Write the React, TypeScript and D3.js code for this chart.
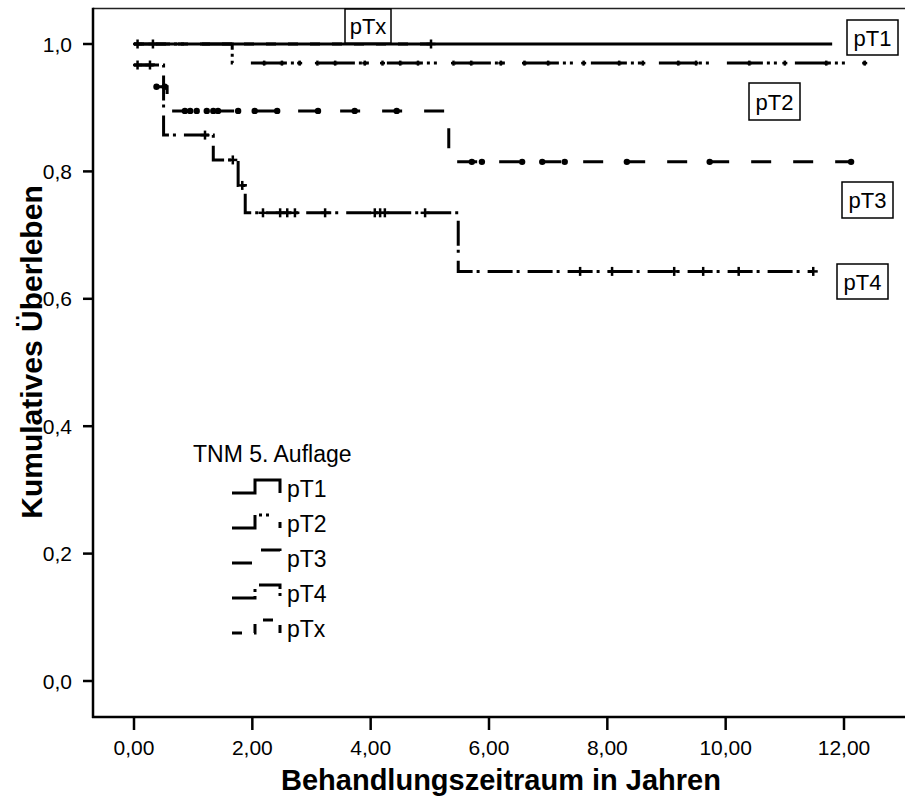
import React from "react";
import * as d3 from "d3";

const WIDTH = 905;
const HEIGHT = 798;

const xTicks = [0, 2, 4, 6, 8, 10, 12];
const yTicks = [0, 0.2, 0.4, 0.6, 0.8, 1.0];

// Kaplan-Meier steps: time (years) where the survival value starts
const pT1Times = [0, 11.8];
const pT1Surv = [1, 1];
const pT1Censored = [0.06, 0.32];

const pT2Times = [0, 1.66, 12.35];
const pT2Surv = [1, 0.97, 0.97];
const pT2Censored = [
  2.2, 2.5, 2.8, 3.1, 3.4, 3.9, 4.2, 4.5, 4.8, 5.4, 5.7, 6.2, 6.6, 7.0, 7.6,
  8.2, 8.6, 9.2, 9.5, 10.4, 11.0, 11.7, 12.35,
];

const pT3Times = [0, 0.33, 0.56, 5.32, 12.12];
const pT3Surv = [0.967, 0.933, 0.895, 0.815, 0.815];
const pT3Censored = [
  0.38, 0.52, 0.86, 0.95, 1.06, 1.23, 1.34, 1.42, 1.76, 2.04, 2.42, 3.11, 3.73,
  4.44, 5.71, 5.88, 6.56, 6.9, 7.28, 8.33, 9.73, 12.12,
];

const pT4Times = [0, 0.5, 1.34, 1.76, 1.88, 5.48, 11.48];
const pT4Surv = [0.967, 0.857, 0.818, 0.778, 0.735, 0.643, 0.643];
const pT4Censored = [
  0.06, 0.27, 1.2, 1.67, 1.83, 2.18, 2.47, 2.59, 2.72, 3.23, 4.07, 4.16, 4.24,
  4.92, 7.54, 8.08, 9.13, 9.62, 10.22, 11.48,
];

const pTxTimes = [0, 5.02];
const pTxSurv = [1, 1];
const pTxCensored = [5.02];

const groupNames = ["pT1", "pT2", "pT3", "pT4", "pTx"];

type Series = {
  name: string;
  times: number[];
  surv: number[];
  censored: number[];
  dash: string;
  mark: "plus" | "small" | "dot";
};

const series: Series[] = [
  { name: "pT1", times: pT1Times, surv: pT1Surv, censored: pT1Censored, dash: "none", mark: "plus" },
  { name: "pTx", times: pTxTimes, surv: pTxSurv, censored: pTxCensored, dash: "10 12", mark: "plus" },
  { name: "pT2", times: pT2Times, surv: pT2Surv, censored: pT2Censored, dash: "36 4 3 4 3 18", mark: "small" },
  { name: "pT3", times: pT3Times, surv: pT3Surv, censored: pT3Censored, dash: "20 22", mark: "dot" },
  { name: "pT4", times: pT4Times, surv: pT4Surv, censored: pT4Censored, dash: "25 4 3 8", mark: "plus" },
];

// Labels placed beside each curve
const curveLabels = [
  { name: "pT1", x: 847, y: 20, w: 51, h: 35 },
  { name: "pT2", x: 749, y: 83, w: 51, h: 37 },
  { name: "pT3", x: 842, y: 182, w: 51, h: 36 },
  { name: "pT4", x: 837, y: 264, w: 51, h: 35 },
  { name: "pTx", x: 345, y: 9, w: 46, h: 34 },
];

const FONT = "Arial, 'Liberation Sans', Helvetica, sans-serif";

function survAt(times: number[], surv: number[], t: number) {
  const i = d3.bisectRight(times, t) - 1;
  return surv[Math.max(0, i)];
}

export default function App() {
  const x = d3.scaleLinear().domain([0, 12]).range([134, 844]);
  const y = d3.scaleLinear().domain([0, 1]).range([681, 44]);

  const axisLeft = 93;
  const axisBottom = 717;
  const top = 8.5;

  const stepLine = d3
    .line<[number, number]>()
    .x((d) => x(d[0]))
    .y((d) => y(d[1]))
    .curve(d3.curveStepAfter);

  const legendStyles: Record<string, string> = {};
  series.forEach((s) => (legendStyles[s.name] = s.dash));

  return (
    <svg
      width={WIDTH}
      height={HEIGHT}
      style={{ position: "absolute", left: 0, top: 0, background: "#fff" }}
      fontFamily={FONT}
    >
      <rect x={0} y={0} width={WIDTH} height={HEIGHT} fill="#fff" />

      {/* frame and axes */}
      <line x1={axisLeft} x2={WIDTH} y1={top} y2={top} stroke="#222" strokeWidth={1.5} />
      <line x1={axisLeft} x2={axisLeft} y1={top - 0.75} y2={axisBottom + 1} stroke="#000" strokeWidth={2.5} />
      <line x1={axisLeft - 1} x2={WIDTH} y1={axisBottom} y2={axisBottom} stroke="#000" strokeWidth={2.5} />

      {yTicks.map((t) => (
        <g key={"y" + t}>
          <line x1={axisLeft - 10} x2={axisLeft} y1={y(t)} y2={y(t)} stroke="#000" strokeWidth={2.5} />
          <text x={72} y={y(t) + 7.5} fontSize={21} textAnchor="end" fill="#000">
            {d3.format(".1f")(t).replace(".", ",")}
          </text>
        </g>
      ))}
      {xTicks.map((t) => (
        <g key={"x" + t}>
          <line x1={x(t)} x2={x(t)} y1={axisBottom} y2={axisBottom + 13} stroke="#000" strokeWidth={2.5} />
          <text x={x(t)} y={755} fontSize={21} textAnchor="middle" fill="#000">
            {d3.format(".2f")(t).replace(".", ",")}
          </text>
        </g>
      ))}

      <text x={501} y={790} fontSize={29} fontWeight="bold" textAnchor="middle" fill="#000">
        Behandlungszeitraum in Jahren
      </text>
      <text
        transform="translate(42,352) rotate(-90)"
        fontSize={30}
        fontWeight="bold"
        textAnchor="middle"
        fill="#000"
      >
        Kumulatives Überleben
      </text>

      {/* survival curves */}
      {series.map((s) => {
        const pts: [number, number][] = s.times.map((t, i) => [t, s.surv[i]]);
        return (
          <path
            key={"c" + s.name}
            d={stepLine(pts) || ""}
            fill="none"
            stroke="#000"
            strokeWidth={3}
            strokeDasharray={s.dash}
          />
        );
      })}

      {/* censoring marks */}
      {series.map((s) =>
        s.censored.map((t, i) => {
          const cx = x(t);
          const cy = y(survAt(s.times, s.surv, t));
          if (s.mark === "dot") {
            return <circle key={s.name + "m" + i} cx={cx} cy={cy} r={3.2} fill="#000" />;
          }
          const a = s.mark === "small" ? 2.5 : 4.5;
          return (
            <g key={s.name + "m" + i} stroke="#000" strokeWidth={2.5}>
              <line x1={cx - a} x2={cx + a} y1={cy} y2={cy} />
              <line x1={cx} x2={cx} y1={cy - a} y2={cy + a} />
            </g>
          );
        })
      )}

      {/* boxed curve labels */}
      {curveLabels.map((l) => (
        <g key={"l" + l.name}>
          <rect x={l.x} y={l.y} width={l.w} height={l.h} fill="#fff" stroke="#000" strokeWidth={1.5} />
          <text x={l.x + l.w / 2} y={l.y + l.h / 2 + 8} fontSize={22} textAnchor="middle" fill="#000">
            {l.name}
          </text>
        </g>
      ))}

      {/* legend */}
      <text x={193} y={462} fontSize={23} fill="#000">
        TNM 5. Auflage
      </text>
      {groupNames.map((name, i) => {
        const base = 493 + i * 35;
        const d = `M232,${base} H255 V${base - 13} H280 V${base}`;
        return (
          <g key={"lg" + name}>
            <path d={d} fill="none" stroke="#000" strokeWidth={3} strokeDasharray={legendStyles[name]} />
            <text x={287} y={base + 4} fontSize={23} fill="#000">
              {name}
            </text>
          </g>
        );
      })}
    </svg>
  );
}
